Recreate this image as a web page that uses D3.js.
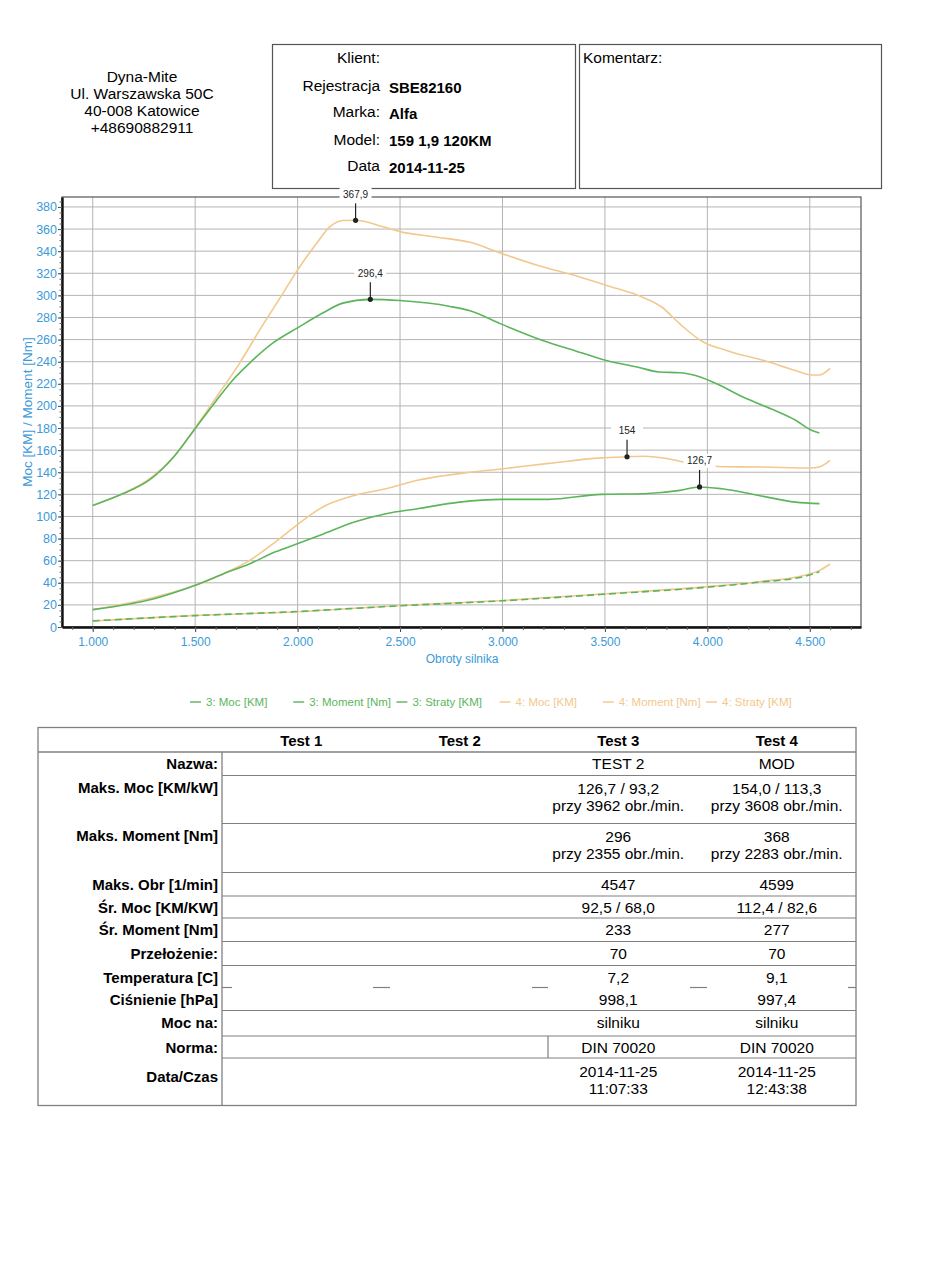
<!DOCTYPE html>
<html>
<head>
<meta charset="utf-8">
<script src="https://cdn.jsdelivr.net/npm/d3@7.9.0/dist/d3.min.js"></script>
<style>
  body { margin: 0; background: #fff; }
  svg { display: block; font-family: "Liberation Sans", Arial, sans-serif; }
  .narrow { font-family: "Liberation Sans Narrow", "Liberation Sans", Arial, sans-serif; }
</style>
</head>
<body>
<svg id="page" width="925" height="1280"></svg>
<script>
// ---- data ----
const t3Moc = [[1000,15.7],[1300,25.6],[1500,37.7],[1636,48],[1764,57],[1892,68],[1995,75],[2123,84],[2277,95],[2431,102.5],[2585,107],[2790,113],[2995,115.5],[3226,115.5],[3482,120],[3687,120.6],[3867,123.6],[3962,126.7],[4072,125],[4251,119],[4431,113],[4547,111.6]];
const t3Moment = [[1000,110],[1140,120],[1277,133],[1400,155],[1506,181],[1604,205],[1684,223.5],[1767,239],[1880,257],[2000,270.6],[2122,284],[2220,293],[2355,296.4],[2500,295.3],[2744,290],[2841,286],[2995,274],[3200,259],[3354,250],[3508,241],[3662,235],[3764,230.7],[3867,230],[3969,226],[4046,220],[4174,208],[4328,196],[4431,187],[4508,178],[4547,175.5]];
const t3Straty = [[1000,5.5],[1500,10.3],[2000,14],[2500,19.2],[3000,23.7],[3500,29.7],[4000,36],[4250,40.5],[4480,46],[4547,50]];
const t4Moc = [[1000,15.7],[1303,27],[1503,37.7],[1636,48],[1764,60],[1892,77],[1995,92],[2123,108.6],[2277,119],[2431,125],[2585,132.7],[2841,140],[2995,143],[3226,148],[3482,153],[3608,154],[3687,154.5],[3815,152],[3892,149],[4072,145],[4251,144.8],[4508,143.8],[4546,144.8],[4599,150.8]];
const t4Moment = [[1000,110],[1140,120],[1290,135.7],[1400,155],[1503,181],[1604,208],[1718,239],[1816,269],[1929,302],[2000,323],[2092,347],[2157,362],[2221,367.7],[2283,367.9],[2418,362],[2500,357.7],[2663,353],[2841,348],[2995,338],[3174,327],[3354,318],[3508,309],[3662,300],[3777,289.5],[3867,274],[3969,259],[4097,250],[4277,241],[4431,232],[4508,228],[4546,228],[4599,234]];
const t4Straty = [[1000,5.4],[1500,10.5],[2000,13.8],[2500,19.5],[3000,24],[3500,30],[4000,36.5],[4250,41],[4480,47],[4546,51],[4599,57]];

const seriesNames = ["3: Moc [KM]", "3: Moment [Nm]", "3: Straty [KM]", "4: Moc [KM]", "4: Moment [Nm]", "4: Straty [KM]"];
const peaks = [
  {rpm: 2283, v: 367.9, label: "367,9"},
  {rpm: 2355, v: 296.4, label: "296,4"},
  {rpm: 3608, v: 154, label: "154"},
  {rpm: 3962, v: 126.7, label: "126,7"}
];

const addressLines = ["Dyna-Mite", "Ul. Warszawska 50C", "40-008 Katowice", "+48690882911"];
const clientLabels = ["Klient:", "Rejestracja", "Marka:", "Model:", "Data"];
const clientValues = ["", "SBE82160", "Alfa", "159 1,9 120KM", "2014-11-25"];

const testHeaders = ["Test 1", "Test 2", "Test 3", "Test 4"];
const rowLabels = ["Nazwa:", "Maks. Moc [KM/kW]", "Maks. Moment [Nm]", "Maks. Obr [1/min]", "Śr. Moc [KM/KW]", "Śr. Moment [Nm]", "Przełożenie:", "Temperatura [C]", "Ciśnienie [hPa]", "Moc na:", "Norma:", "Data/Czas"];
const test3Values = [["TEST 2"], ["126,7 / 93,2", "przy 3962 obr./min."], ["296", "przy 2355 obr./min."], ["4547"], ["92,5 / 68,0"], ["233"], ["70"], ["7,2"], ["998,1"], ["silniku"], ["DIN 70020"], ["2014-11-25", "11:07:33"]];
const test4Values = [["MOD"], ["154,0 / 113,3", "przy 3608 obr./min."], ["368", "przy 2283 obr./min."], ["4599"], ["112,4 / 82,6"], ["277"], ["70"], ["9,1"], ["997,4"], ["silniku"], ["DIN 70020"], ["2014-11-25", "12:43:38"]];

// ---- layout ----
const svg = d3.select('#page');
const green = '#5cb55c';
const orange = '#f3c88e';
const blue = '#3b9ad8';
const gridGray = '#b4b4b4';
const tableGray = '#808080';

// header: address
svg.append('g').selectAll('text').data(addressLines).join('text')
  .attr('x', 142).attr('y', (d, i) => 81.5 + i * 17)
  .attr('text-anchor', 'middle').attr('font-size', 15.5).text(d => d);

// client + comment boxes
svg.append('rect').attr('x', 272.5).attr('y', 44.5).attr('width', 303).attr('height', 144)
  .attr('fill', 'none').attr('stroke', '#555').attr('stroke-width', 1.2);
svg.append('rect').attr('x', 579.5).attr('y', 44.5).attr('width', 302).attr('height', 144)
  .attr('fill', 'none').attr('stroke', '#555').attr('stroke-width', 1.2);
const labelY = [63, 91, 117, 144.5, 171];
svg.append('g').selectAll('text').data(clientLabels).join('text')
  .attr('x', 380).attr('y', (d, i) => labelY[i])
  .attr('text-anchor', 'end').attr('font-size', 15.5).text(d => d);
svg.append('g').selectAll('text').data(clientValues).join('text')
  .attr('x', 389).attr('y', (d, i) => labelY[i] + 1.5)
  .attr('font-size', 15).attr('font-weight', 'bold').text(d => d);
svg.append('text').attr('x', 583).attr('y', 63).attr('font-size', 15.5).text('Komentarz:');

// ---- chart ----
const x = d3.scaleLinear().domain([850, 4750]).range([62, 861]);
const y = d3.scaleLinear().domain([0, 389]).range([627, 197]);

const locale = d3.formatLocale({decimal: ',', thousands: '.', grouping: [3], currency: ['', '']});
const fmtRpm = locale.format(',.0f');

const chart = svg.append('g');
// grid
chart.append('g').selectAll('line').data(d3.range(20, 381, 20)).join('line')
  .attr('x1', x.range()[0]).attr('x2', x.range()[1])
  .attr('y1', d => y(d)).attr('y2', d => y(d))
  .attr('stroke', gridGray).attr('stroke-width', 1);
chart.append('g').selectAll('line').data(d3.range(1000, 4501, 500)).join('line')
  .attr('x1', d => x(d)).attr('x2', d => x(d))
  .attr('y1', y.range()[0]).attr('y2', y.range()[1])
  .attr('stroke', gridGray).attr('stroke-width', 1);

// frame
chart.append('rect').attr('x', 62).attr('y', 197).attr('width', 799).attr('height', 430)
  .attr('fill', 'none').attr('stroke', '#555').attr('stroke-width', 1.2);

// axes
const xAxis = d3.axisBottom(x).tickValues(d3.range(1000, 4501, 500)).tickFormat(fmtRpm).tickSize(5).tickSizeOuter(0);
const gx = chart.append('g').attr('transform', 'translate(0,627)').call(xAxis);
gx.select('.domain').attr('stroke', '#111').attr('stroke-width', 2.4);
gx.selectAll('.tick line').attr('stroke', '#444');
gx.selectAll('.tick text').attr('fill', blue).attr('font-size', 12).attr('class', 'narrow').attr('dy', '0.95em');
chart.append('g').attr('transform', 'translate(0,627)')
  .call(d3.axisBottom(x).tickValues(d3.range(900, 4701, 100)).tickSize(3).tickFormat(''))
  .call(g => g.select('.domain').remove())
  .selectAll('.tick line').attr('stroke', '#666');

const yAxis = d3.axisLeft(y).tickValues(d3.range(0, 381, 20)).tickSize(4).tickSizeOuter(0);
const gy = chart.append('g').attr('transform', 'translate(62,0)').call(yAxis);
gy.select('.domain').attr('stroke', '#111').attr('stroke-width', 2.4);
gy.selectAll('.tick line').attr('stroke', '#444');
gy.selectAll('.tick text').attr('fill', blue).attr('font-size', 12.5).attr('class', 'narrow').attr('x', -5);
chart.append('g').attr('transform', 'translate(62,0)')
  .call(d3.axisLeft(y).tickValues(d3.range(0, 386, 5)).tickSize(2.5).tickFormat(''))
  .call(g => g.select('.domain').remove())
  .selectAll('.tick line').attr('stroke', '#666');

chart.append('text').attr('x', 462).attr('y', 663).attr('text-anchor', 'middle')
  .attr('fill', blue).attr('font-size', 12).attr('class', 'narrow').text('Obroty silnika');
chart.append('text').attr('transform', 'translate(32,412) rotate(-90)').attr('text-anchor', 'middle')
  .attr('fill', blue).attr('font-size', 13.5).attr('class', 'narrow').text('Moc [KM] / Moment [Nm]');

// curves
const line = d3.line().x(d => x(d[0])).y(d => y(d[1])).curve(d3.curveMonotoneX);
const curves = [
  {data: t4Straty, color: orange, dash: null},
  {data: t4Moc, color: orange, dash: null},
  {data: t4Moment, color: orange, dash: null},
  {data: t3Straty, color: green, dash: '7,4'},
  {data: t3Moc, color: green, dash: null},
  {data: t3Moment, color: green, dash: null}
];
chart.append('g').selectAll('path').data(curves).join('path')
  .attr('d', d => line(d.data))
  .attr('fill', 'none').attr('stroke', d => d.color).attr('stroke-width', 1.6)
  .attr('stroke-dasharray', d => d.dash);

// peak markers
const pk = chart.append('g').selectAll('g').data(peaks).join('g');
pk.append('line')
  .attr('x1', d => x(d.rpm)).attr('x2', d => x(d.rpm))
  .attr('y1', d => y(d.v)).attr('y2', d => y(d.v) - 17)
  .attr('stroke', '#222').attr('stroke-width', 1.2);
pk.append('circle').attr('cx', d => x(d.rpm)).attr('cy', d => y(d.v)).attr('r', 2.6).attr('fill', '#222');
pk.append('rect')
  .attr('x', d => x(d.rpm) - 16).attr('y', d => y(d.v) - 33)
  .attr('width', 32).attr('height', 14).attr('fill', '#fff');
pk.append('text')
  .attr('x', d => x(d.rpm)).attr('y', d => y(d.v) - 22.5)
  .attr('text-anchor', 'middle').attr('font-size', 10).attr('class', 'narrow').attr('fill', '#222')
  .text(d => d.label);

// legend
const legendColors = [green, green, green, orange, orange, orange];
const lg = svg.append('g').selectAll('g').data(seriesNames).join('g')
  .attr('transform', (d, i) => `translate(${190 + i * 103.2},702)`);
lg.append('line').attr('x1', 0).attr('x2', 11).attr('y1', 0).attr('y2', 0)
  .attr('stroke', (d, i) => legendColors[i]).attr('stroke-width', 1.4);
lg.append('text').attr('x', 16).attr('y', 4).attr('font-size', 11.5).attr('class', 'narrow')
  .attr('fill', (d, i) => legendColors[i]).text(d => d);

// ---- table ----
const tb = svg.append('g');
const tLeft = 38, tRight = 856, labelCol = 222, tTop = 727.5, headBottom = 752;
const rowHeights = [23.5, 48, 49, 23.5, 22, 23.5, 24, 22, 23, 25.5, 22, 47.5];
const rowTops = [];
rowHeights.reduce((acc, h) => { rowTops.push(acc); return acc + h; }, headBottom);
const tBottom = rowTops[rowTops.length - 1] + rowHeights[rowHeights.length - 1];
const colW = (tRight - labelCol) / 4;
const colCenter = i => labelCol + colW * (i + 0.5);

tb.append('rect').attr('x', tLeft).attr('y', tTop).attr('width', tRight - tLeft).attr('height', tBottom - tTop)
  .attr('fill', 'none').attr('stroke', tableGray).attr('stroke-width', 1.3);
tb.append('line').attr('x1', tLeft).attr('x2', tRight).attr('y1', headBottom).attr('y2', headBottom)
  .attr('stroke', tableGray).attr('stroke-width', 1.3);
tb.append('line').attr('x1', labelCol).attr('x2', labelCol).attr('y1', headBottom).attr('y2', tBottom)
  .attr('stroke', tableGray).attr('stroke-width', 1.3);
// row separators (Temperatura/Ciśnienie share a cell)
const sepRows = rowTops.slice(1).filter((t, i) => i !== 7);
tb.append('g').selectAll('line').data(sepRows).join('line')
  .attr('x1', labelCol).attr('x2', tRight).attr('y1', d => d).attr('y2', d => d)
  .attr('stroke', tableGray).attr('stroke-width', 1.2);
const dashSegs = [[222, 232], [373, 390], [532, 548], [690, 707], [848, 856]];
tb.append('g').selectAll('line').data(dashSegs).join('line')
  .attr('x1', d => d[0]).attr('x2', d => d[1]).attr('y1', rowTops[8]).attr('y2', rowTops[8])
  .attr('stroke', tableGray).attr('stroke-width', 1.2);
// Norma cell split
tb.append('line').attr('x1', 548).attr('x2', 548).attr('y1', rowTops[10]).attr('y2', rowTops[11])
  .attr('stroke', tableGray).attr('stroke-width', 1.2);

tb.append('g').selectAll('text').data(testHeaders).join('text')
  .attr('x', (d, i) => colCenter(i)).attr('y', 745.5)
  .attr('text-anchor', 'middle').attr('font-size', 15).attr('font-weight', 'bold').text(d => d);

const labelOffset = rowLabels.map((d, i) => i === 11 ? 23.5 : 17);
tb.append('g').selectAll('text').data(rowLabels).join('text')
  .attr('x', 218).attr('y', (d, i) => rowTops[i] + labelOffset[i])
  .attr('text-anchor', 'end').attr('font-size', 15).attr('font-weight', 'bold').text(d => d);

[test3Values, test4Values].forEach((vals, ci) => {
  const g = tb.append('g');
  vals.forEach((lines, ri) => {
    lines.forEach((t, li) => {
      g.append('text').attr('x', colCenter(ci + 2)).attr('y', rowTops[ri] + 17 + li * 17 + (lines.length > 1 ? 1.5 : 0))
        .attr('text-anchor', 'middle').attr('font-size', 15.5).text(t);
    });
  });
});
</script>
</body>
</html>
